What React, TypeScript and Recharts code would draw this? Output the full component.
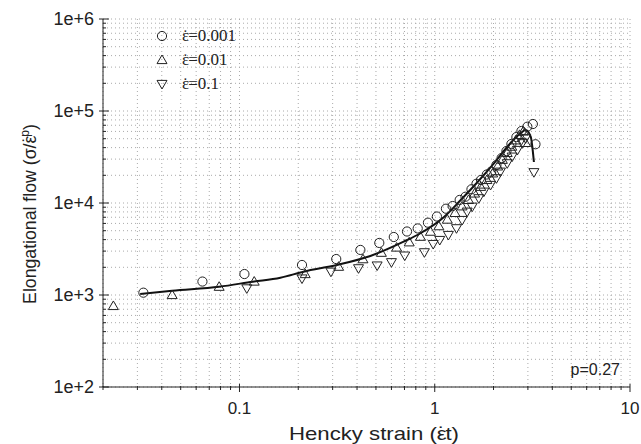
import { CartesianGrid, ComposedChart, Legend, Line, Scatter, XAxis, YAxis } from "recharts";

// measured points, [Hencky strain, elongational flow]
const rate001: [number, number][] = [
  [0.0322, 1060], [0.0646, 1400], [0.106, 1690], [0.209, 2120], [0.313, 2460],
  [0.416, 3090], [0.52, 3680], [0.617, 4270], [0.721, 4900], [0.818, 5290],
  [0.923, 6110], [1.026, 7130], [1.141, 8670], [1.235, 9270], [1.342, 10800],
  [1.437, 11700], [1.542, 14100], [1.636, 16200], [1.725, 17800], [1.848, 20400],
  [1.946, 21900], [2.07, 25900], [2.2, 30800], [2.33, 36700], [2.47, 43800],
  [2.62, 52100], [2.78, 60600], [2.98, 67500], [3.18, 72200], [3.28, 43500],
];

const rate01: [number, number][] = [
  [0.0226, 760], [0.0452, 1000], [0.0787, 1230], [0.119, 1400], [0.217, 1690],
  [0.322, 2030], [0.429, 2450], [0.533, 2880], [0.638, 3280], [0.74, 3740],
  [0.845, 4300], [0.951, 4880], [1.05, 5600], [1.16, 6600], [1.27, 7800],
  [1.38, 9200], [1.49, 10800], [1.6, 12700], [1.72, 15000], [1.85, 17800],
  [1.98, 21000], [2.1, 25000], [2.22, 29500], [2.35, 35000], [2.48, 41000],
  [2.6, 48000], [2.72, 55000], [2.84, 60000], [2.92, 45000],
];

const rate1: [number, number][] = [
  [0.109, 1180], [0.209, 1510], [0.294, 1790], [0.407, 1950], [0.507, 2090],
  [0.6, 2270], [0.702, 2680], [0.885, 2910], [0.982, 3580], [1.061, 3960],
  [1.175, 4490], [1.292, 5310], [1.381, 6530], [1.466, 8040], [1.555, 9110],
  [1.681, 11250], [1.784, 13270], [1.931, 15700], [2.07, 18550], [2.17, 21900],
  [2.35, 27000], [2.49, 31900], [2.65, 37700], [2.81, 44600], [2.92, 50500],
  [3.22, 21600],
];

// model curve, p = 0.27
const model: [number, number][] = [
  [0.031, 1026], [0.0452, 1114], [0.0787, 1230], [0.117, 1396], [0.162, 1541],
  [0.213, 1792], [0.315, 2118], [0.468, 2655], [0.693, 3796], [0.845, 4690],
  [1.112, 7000], [1.355, 10700], [1.649, 16700], [2.01, 27000], [2.44, 44600],
  [2.75, 57300], [2.92, 62100], [3.1, 52600], [3.22, 27900],
];

const xTicks = [
  0.02, 0.03, 0.04, 0.05, 0.06, 0.07, 0.08, 0.09,
  0.1, 0.2, 0.3, 0.4, 0.5, 0.6, 0.7, 0.8, 0.9,
  1, 2, 3, 4, 5, 6, 7, 8, 9, 10,
];
const xMajor = [0.1, 1, 10];
const xLabels = ["0.1", "1", "10"];

const yTicks = [
  100, 200, 300, 400, 500, 600, 700, 800, 900,
  1000, 2000, 3000, 4000, 5000, 6000, 7000, 8000, 9000,
  10000, 20000, 30000, 40000, 50000, 60000, 70000, 80000, 90000,
  100000, 200000, 300000, 400000, 500000, 600000, 700000, 800000, 900000,
  1000000,
];
const yMajor = [100, 1000, 10000, 100000, 1000000];
const yLabels = ["1e+2", "1e+3", "1e+4", "1e+5", "1e+6"];

const series = [
  { rate: "0.001", shape: "circle", data: rate001 },
  { rate: "0.01", shape: "up", data: rate01 },
  { rate: "0.1", shape: "down", data: rate1 },
];

const toPoints = (arr: [number, number][]) => arr.map(([x, y]) => ({ x, y }));

const INK = "#222";
const SANS = "'Liberation Sans', Arial, sans-serif";
const SERIF = "'Liberation Serif', 'Times New Roman', serif";
const box = { left: 103, right: 630, top: 19, bottom: 387 };

// ε with a dot on top (the combining dot lands beside the letter in these fonts)
const EpsDot = ({ size }: { size: number }) => (
  <>
    <tspan>ε</tspan>
    <tspan dx={-0.39 * size}>˙</tspan>
    <tspan dx={0.055 * size}>{""}</tspan>
  </>
);

const marker = (shape: string, cx: number, cy: number) => {
  if (shape === "circle") {
    return <circle cx={cx} cy={cy} r={4.6} fill="none" stroke={INK} strokeWidth={1} />;
  }
  const s = shape === "up" ? 1 : -1;
  const pts = `${cx},${cy - 5 * s} ${cx + 5},${cy + 3.6 * s} ${cx - 5},${cy + 3.6 * s}`;
  return <polygon points={pts} fill="none" stroke={INK} strokeWidth={1} />;
};

const BottomTick = ({ x, payload }: any) => {
  const i = xMajor.indexOf(payload.value);
  return (
    <g>
      <line x1={x} x2={x} y1={box.bottom - (i >= 0 ? 3 : 1)} y2={box.bottom + (i >= 0 ? 5 : 3)} stroke={INK} />
      {i >= 0 && (
        <text x={x} y={414} textAnchor="middle" fontSize={17} fontFamily={SANS} fill={INK}>
          {xLabels[i]}
        </text>
      )}
    </g>
  );
};

const TopTick = ({ x, payload }: any) => {
  const m = xMajor.includes(payload.value);
  return <line x1={x} x2={x} y1={box.top} y2={box.top + (m ? 6 : 3)} stroke={INK} />;
};

const LeftTick = ({ y, payload }: any) => {
  const i = yMajor.indexOf(payload.value);
  return (
    <g>
      <line x1={box.left - (i >= 0 ? 4 : 0)} x2={box.left + (i >= 0 ? 6 : 3)} y1={y} y2={y} stroke={INK} />
      {i >= 0 && (
        <text x={94} y={y + 6} textAnchor="end" fontSize={18} fontFamily={SANS} fill={INK}>
          {yLabels[i]}
        </text>
      )}
    </g>
  );
};

const RightTick = ({ y, payload }: any) => {
  const m = yMajor.includes(payload.value);
  return <line x1={box.right - (m ? 6 : 3)} x2={box.right} y1={y} y2={y} stroke={INK} />;
};

const renderLegend = () => (
  <svg width={120} height={72}>
    {series.map((s, i) => (
      <g key={s.rate}>
        {marker(s.shape, 12, 12 + i * 24)}
        <text x={32} y={17 + i * 24} fontFamily={SERIF} fontSize={17} fill={INK}>
          <EpsDot size={17} />
          <tspan>={s.rate}</tspan>
        </text>
      </g>
    ))}
  </svg>
);

export default function App() {
  return (
    <div style={{ position: "relative", width: 641, height: 444, background: "#fff" }}>
      <style>{"body { margin: 0; }"}</style>
      <ComposedChart width={641} height={444} margin={{ top: 19, right: 11, bottom: 0, left: 0 }}>
        <CartesianGrid stroke="#aaa" strokeDasharray="1 3" />
        <XAxis
          type="number"
          dataKey="x"
          scale="log"
          domain={[0.02, 10]}
          allowDataOverflow
          ticks={xTicks}
          interval={0}
          tick={BottomTick}
          tickLine={false}
          axisLine={{ stroke: INK }}
          height={57}
        />
        <XAxis
          xAxisId="top"
          orientation="top"
          type="number"
          dataKey="x"
          scale="log"
          domain={[0.02, 10]}
          allowDataOverflow
          ticks={xTicks}
          interval={0}
          tick={TopTick}
          tickLine={false}
          axisLine={{ stroke: INK }}
          height={0}
        />
        <YAxis
          type="number"
          dataKey="y"
          scale="log"
          domain={[100, 1000000]}
          allowDataOverflow
          ticks={yTicks}
          interval={0}
          tick={LeftTick}
          tickLine={false}
          axisLine={{ stroke: INK }}
          width={103}
        />
        <YAxis
          yAxisId="right"
          orientation="right"
          type="number"
          dataKey="y"
          scale="log"
          domain={[100, 1000000]}
          allowDataOverflow
          ticks={yTicks}
          interval={0}
          tick={RightTick}
          tickLine={false}
          axisLine={{ stroke: INK }}
          width={0}
        />
        <Legend
          layout="vertical"
          align="center"
          verticalAlign="middle"
          content={renderLegend}
          wrapperStyle={{ left: 150, top: 24, width: 120, height: 72 }}
        />
        {series.map((s) => (
          <Scatter
            key={s.rate}
            name={`ε̇=${s.rate}`}
            data={toPoints(s.data)}
            dataKey="y"
            isAnimationActive={false}
            shape={(p: any) => marker(s.shape, p.cx, p.cy)}
          />
        ))}
        <Line
          data={toPoints(model)}
          dataKey="y"
          type="monotone"
          stroke="#111"
          strokeWidth={2}
          dot={false}
          isAnimationActive={false}
          legendType="none"
        />
      </ComposedChart>
      <div style={{ position: "absolute", left: 0, top: 0, pointerEvents: "none" }}>
        <svg width={641} height={444}>
          <text
            transform="translate(36, 214) rotate(-90)"
            textAnchor="middle"
            fontSize={17.7}
            fontFamily={SANS}
            fill={INK}
          >
            <tspan>Elongational flow (σ/</tspan>
            <EpsDot size={17.7} />
            <tspan dy={-7} fontSize={12}>p</tspan>
            <tspan dy={7}>)</tspan>
          </text>
          <text
            x={289}
            y={440}
            fontSize={19}
            fontFamily={SANS}
            fill={INK}
            textLength={170}
            lengthAdjust="spacingAndGlyphs"
          >
            <tspan>Hencky strain (</tspan>
            <EpsDot size={19} />
            <tspan>t)</tspan>
          </text>
          <text x={620} y={375} textAnchor="end" fontSize={16} fontFamily={SANS} fill={INK}>
            p=0.27
          </text>
        </svg>
      </div>
    </div>
  );
}
